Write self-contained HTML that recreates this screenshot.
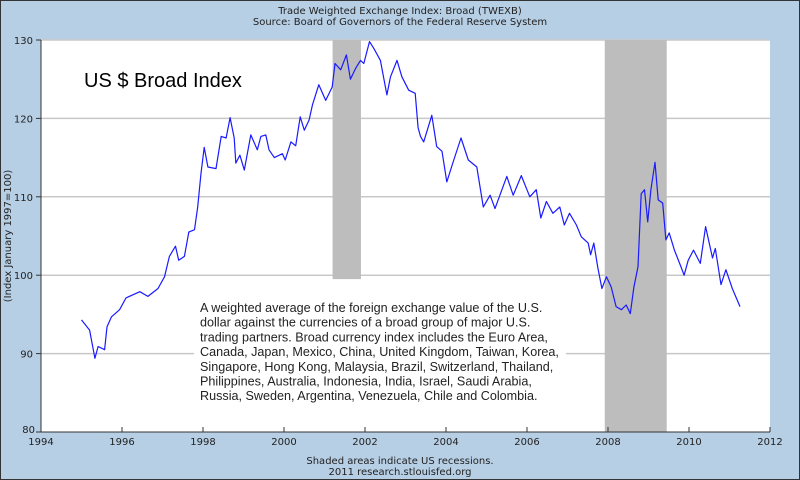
<!DOCTYPE html>
<html><head><meta charset="utf-8"><style>
html,body{margin:0;padding:0;width:800px;height:480px;overflow:hidden;background:#b7cfe5}
svg{display:block;font-family:"DejaVu Sans","Liberation Sans",sans-serif}
</style></head><body>
<svg id="c" width="800" height="480" xmlns="http://www.w3.org/2000/svg">
<rect x="0.5" y="0.5" width="799" height="479" fill="#b7cfe5" stroke="#333"/>
<text x="400" y="14" font-size="10" text-anchor="middle" fill="#222">Trade Weighted Exchange Index: Broad (TWEXB)</text>
<text x="400" y="25" font-size="10" text-anchor="middle" fill="#222">Source: Board of Governors of the Federal Reserve System</text>
<rect x="41" y="40" width="729" height="392" fill="#fff"/>
<g id="grid"></g>
<g id="rec"></g>
<g id="ticks"></g>
<text x="84" y="87" font-size="20" font-family="Liberation Sans,sans-serif" fill="#000">US $ Broad Index</text>
<rect x="194" y="297" width="372" height="110" fill="#fff"/>
<text font-size="12.6" font-family="Liberation Sans,sans-serif" fill="#222">
<tspan x="200" y="312">A weighted average of the foreign exchange value of the U.S.</tspan>
<tspan x="200" y="326.7">dollar against the currencies of a broad group of major U.S.</tspan>
<tspan x="200" y="341.4">trading partners.  Broad currency index includes the Euro Area,</tspan>
<tspan x="200" y="356.1">Canada, Japan, Mexico, China, United Kingdom, Taiwan, Korea,</tspan>
<tspan x="200" y="370.8">Singapore, Hong Kong, Malaysia, Brazil, Switzerland, Thailand,</tspan>
<tspan x="200" y="385.5">Philippines, Australia, Indonesia, India, Israel, Saudi Arabia,</tspan>
<tspan x="200" y="400.2">Russia, Sweden, Argentina, Venezuela, Chile and Colombia.</tspan>
</text>
<g id="series"></g>
<line x1="41" y1="40" x2="41" y2="432" stroke="#333"/>
<line x1="41" y1="432" x2="770" y2="432" stroke="#333"/>
<text transform="translate(11,236) rotate(-90)" font-size="10" text-anchor="middle" fill="#222">(Index January 1997=100)</text>
<text x="400" y="464" font-size="10" text-anchor="middle" fill="#222">Shaded areas indicate US recessions.</text>
<text x="400" y="475" font-size="10" text-anchor="middle" fill="#222">2011 research.stlouisfed.org</text>
</svg>
<script>
const dates=[1995.0,1995.2,1995.33,1995.41,1995.57,1995.63,1995.74,1995.94,1996.1,1996.44,1996.64,1996.89,1997.05,1997.17,1997.32,1997.4,1997.54,1997.65,1997.79,1997.87,1997.95,1998.03,1998.12,1998.32,1998.45,1998.57,1998.67,1998.77,1998.81,1998.91,1999.02,1999.18,1999.34,1999.43,1999.55,1999.63,1999.76,1999.96,2000.03,2000.17,2000.29,2000.4,2000.5,2000.62,2000.7,2000.86,2001.03,2001.19,2001.26,2001.4,2001.54,2001.64,2001.77,2001.89,2001.97,2002.11,2002.22,2002.38,2002.54,2002.63,2002.79,2002.91,2003.08,2003.24,2003.31,2003.37,2003.45,2003.65,2003.77,2003.9,2004.02,2004.18,2004.37,2004.55,2004.76,2004.92,2005.09,2005.21,2005.33,2005.5,2005.66,2005.86,2006.07,2006.23,2006.34,2006.48,2006.64,2006.81,2006.92,2007.05,2007.22,2007.34,2007.51,2007.57,2007.65,2007.75,2007.85,2007.96,2008.08,2008.2,2008.33,2008.45,2008.55,2008.64,2008.74,2008.82,2008.9,2008.98,2009.06,2009.16,2009.24,2009.35,2009.43,2009.51,2009.64,2009.8,2009.88,2009.98,2010.11,2010.28,2010.41,2010.58,2010.65,2010.79,2010.91,2011.07,2011.26];
const values=[94.3,93.0,89.4,90.9,90.5,93.4,94.7,95.6,97.1,97.9,97.3,98.3,99.8,102.4,103.7,101.9,102.4,105.5,105.8,108.7,113.0,116.3,113.8,113.6,117.7,117.5,120.1,117.5,114.3,115.3,113.4,117.9,116.0,117.7,117.9,116.0,115.0,115.5,114.7,117.0,116.5,120.2,118.5,119.8,121.7,124.3,122.3,124.0,127.0,126.2,128.1,125.0,126.4,127.4,127.0,129.8,128.9,127.4,123.0,125.3,127.4,125.3,123.6,123.2,118.8,117.7,117.0,120.4,116.4,115.8,111.9,114.5,117.5,114.7,113.8,108.7,110.2,108.5,110.2,112.6,110.2,112.7,110.0,110.9,107.3,109.4,107.9,108.7,106.4,107.9,106.4,104.9,104.1,102.6,104.1,100.9,98.3,99.8,98.5,96.0,95.6,96.2,95.1,98.5,101.1,110.4,110.9,106.8,110.9,114.4,109.6,109.2,104.5,105.4,103.2,101.1,100.0,101.9,103.2,101.5,106.2,102.2,103.4,98.8,100.7,98.3,96.0];
const recStart=[2001.2,2007.92];
const recEnd=[2001.9,2009.45];
const recFloor=[99.5,80];
const yTicks=[80,90,100,110,120,130];
const xTicks=[1994,1996,1998,2000,2002,2004,2006,2008,2010,2012];
const NS="http://www.w3.org/2000/svg";
const X=y=>41+(y-1994)*(729/18);
const Y=v=>432-(v-80)*(392/50);
function mk(t,a,p){const e=document.createElementNS(NS,t);for(const k in a)e.setAttribute(k,a[k]);p.appendChild(e);return e;}
const grid=document.getElementById('grid'),ticks=document.getElementById('ticks'),rec=document.getElementById('rec'),ser=document.getElementById('series');
yTicks.forEach(v=>{
  if(v>80&&v<130){const g=mk('line',{x1:41,x2:770,y1:Y(v),y2:Y(v),stroke:'#c8c8c8','stroke-width':1.5},grid);
  
  }
  if(v===130){const g=mk('line',{x1:41,x2:770,y1:Y(v),y2:Y(v),stroke:'#c8c8c8','stroke-width':1.5},grid);
  
  }
  const tk=mk('line',{x1:36,x2:41,y1:Y(v),y2:Y(v),stroke:'#333'},ticks);
  
  
  const t=mk('text',{x:v===80?35:33,y:Y(v)+(v===80?1:4),'font-size':10,'text-anchor':'end',fill:'#222'},ticks);
  t.textContent=v;
  
  
});
xTicks.forEach(yr=>{
  const tk=mk('line',{x1:X(yr),x2:X(yr),y1:427,y2:432,stroke:'#333'},ticks);
  
  
  const t=mk('text',{x:X(yr),y:445,'font-size':10,'text-anchor':'middle',fill:'#222'},ticks);
  t.textContent=yr;
  
  
});
recStart.forEach((s,i)=>{
  const r=mk('rect',{x:X(s),y:40,width:X(recEnd[i])-X(s),height:Y(recFloor[i])-40,fill:'#bdbdbd'},rec);
  
  
});
const pts=dates.map((d,i)=>X(d).toFixed(1)+','+Y(values[i]).toFixed(1)).join(' ');
const pl=mk('polyline',{points:pts,fill:'none',stroke:'#1a1aff','stroke-width':1.2,'stroke-linejoin':'round'},ser);


</script>
</body></html>
